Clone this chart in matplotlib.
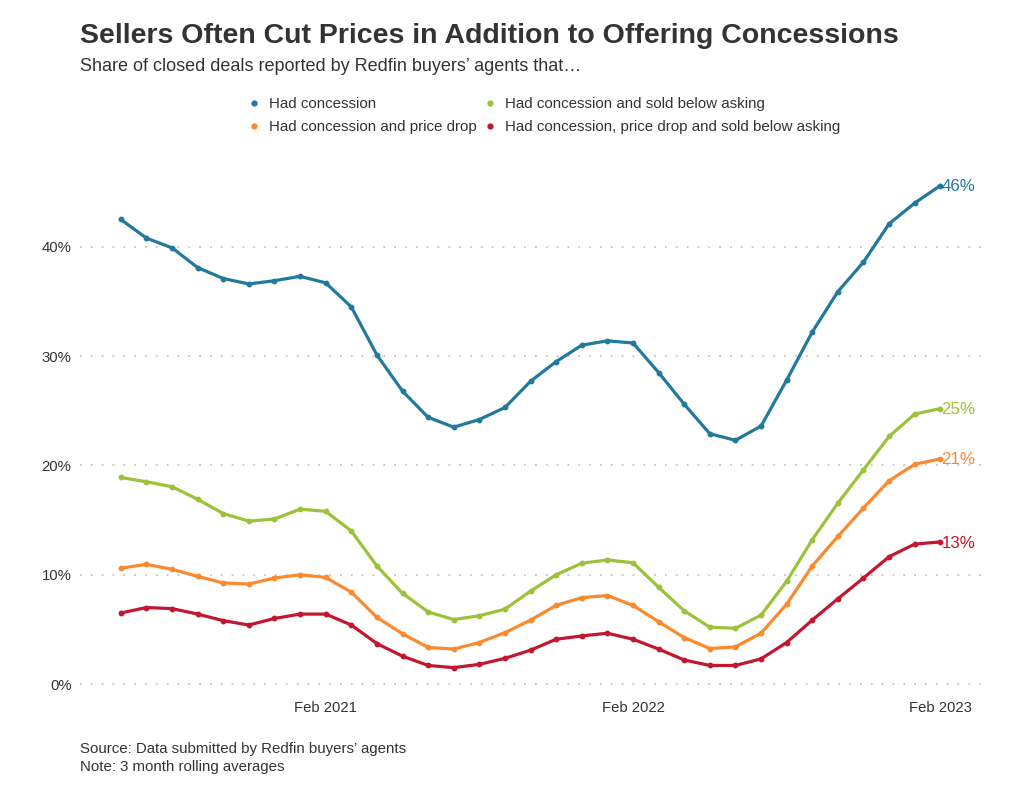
import matplotlib
matplotlib.use("Agg")
import matplotlib.pyplot as plt
from matplotlib.lines import Line2D

plt.rcParams['font.family'] = ['Liberation Sans', 'DejaVu Sans']

months = ["Jun 2020", "Jul 2020", "Aug 2020", "Sep 2020", "Oct 2020", "Nov 2020", "Dec 2020",
          "Jan 2021", "Feb 2021", "Mar 2021", "Apr 2021", "May 2021", "Jun 2021", "Jul 2021",
          "Aug 2021", "Sep 2021", "Oct 2021", "Nov 2021", "Dec 2021", "Jan 2022", "Feb 2022",
          "Mar 2022", "Apr 2022", "May 2022", "Jun 2022", "Jul 2022", "Aug 2022", "Sep 2022",
          "Oct 2022", "Nov 2022", "Dec 2022", "Jan 2023", "Feb 2023"]

had_concession = [42.5, 40.8, 39.9, 38.1, 37.1, 36.6, 36.9, 37.3, 36.7, 34.5, 30.1, 26.8, 24.4,
                  23.5, 24.2, 25.3, 27.7, 29.5, 31.0, 31.4, 31.2, 28.5, 25.6, 22.9, 22.3, 23.6,
                  27.8, 32.2, 35.9, 38.6, 42.1, 44.0, 45.6]
conc_below_asking = [18.9, 18.5, 18.05, 16.9, 15.6, 14.9, 15.1, 16.0, 15.8, 14.0, 10.8, 8.3, 6.6,
                     5.9, 6.25, 6.85, 8.5, 10.0, 11.05, 11.35, 11.1, 8.85, 6.7, 5.2, 5.1, 6.3,
                     9.4, 13.2, 16.55, 19.6, 22.65, 24.7, 25.2]
conc_price_drop = [10.6, 10.95, 10.5, 9.85, 9.25, 9.15, 9.7, 10.0, 9.75, 8.4, 6.1, 4.6, 3.35,
                   3.2, 3.8, 4.7, 5.85, 7.2, 7.9, 8.1, 7.2, 5.7, 4.25, 3.25, 3.4, 4.65,
                   7.3, 10.8, 13.5, 16.1, 18.6, 20.1, 20.6]
conc_drop_below = [6.5, 7.0, 6.9, 6.4, 5.8, 5.4, 6.0, 6.4, 6.4, 5.4, 3.7, 2.55, 1.7,
                   1.5, 1.8, 2.35, 3.1, 4.1, 4.4, 4.65, 4.1, 3.2, 2.2, 1.7, 1.7, 2.3,
                   3.8, 5.85, 7.8, 9.7, 11.65, 12.8, 13.0]

series_names = ["Had concession", "Had concession and price drop",
                "Had concession and sold below asking",
                "Had concession, price drop and sold below asking"]
series_values = [had_concession, conc_price_drop, conc_below_asking, conc_drop_below]
colors = ["#217a9b", "#fb8a2e", "#9cc23a", "#c2172e"]

y_ticks = [0, 10, 20, 30, 40]
y_tick_labels = ["0%", "10%", "20%", "30%", "40%"]
x_tick_labels = ["Feb 2021", "Feb 2022", "Feb 2023"]

fig = plt.figure(figsize=(10.24, 7.96), dpi=100)
ax = fig.add_axes([0.078, 0.1206, 0.889, 0.691])

x = list(range(len(months)))
for vals, col in zip(series_values, colors):
    ax.plot(x, vals, color=col, lw=2.3, marker='o', ms=3.2, solid_joinstyle='round', zorder=3)
    ax.text(x[-1] + 0.05, vals[-1] - 0.1, f"{round(vals[-1]):d}%", color=col, fontsize=12.2,
            va='center', ha='left', zorder=4)

ax.set_xlim(-1.6, 33.95)
ax.set_ylim(-1.46, 48.86)
ax.set_yticks(y_ticks)
ax.set_yticklabels(y_tick_labels)
ax.set_xticks([months.index(m) for m in x_tick_labels])
ax.set_xticklabels(x_tick_labels)
ax.tick_params(axis='both', length=0, labelsize=10.7, colors='#333333')
ax.tick_params(axis='y', pad=6)
ax.tick_params(axis='x', pad=1)
for s in ax.spines.values():
    s.set_visible(False)
ax.grid(axis='y', color='#c4c4c4', linestyle=(0, (1, 5)), linewidth=1.3)
ax.set_axisbelow(True)

fig.text(0.078, 0.955, "Sellers Often Cut Prices in Addition to Offering Concessions",
         fontsize=20.5, fontweight='bold', color='#333333', va='center', ha='left')
fig.text(0.078, 0.916, "Share of closed deals reported by Redfin buyers\u2019 agents that\u2026",
         fontsize=13, color='#333333', va='center', ha='left')

handles = [Line2D([], [], color=c, marker='o', ms=3.5, lw=0) for c in colors]
leg = fig.legend(handles, series_names, loc='center', bbox_to_anchor=(0.532, 0.855), ncol=2,
                 frameon=False, fontsize=10.9, handlelength=0.6, handletextpad=0.7,
                 columnspacing=0.6, labelspacing=0.6)
for t in leg.get_texts():
    t.set_color('#333333')

fig.text(0.078, 0.048, "Source: Data submitted by Redfin buyers\u2019 agents\nNote: 3 month rolling averages",
         fontsize=10.8, color='#333333', va='center', ha='left', linespacing=1.35)

fig.savefig("out.png", dpi=100, facecolor='white')
